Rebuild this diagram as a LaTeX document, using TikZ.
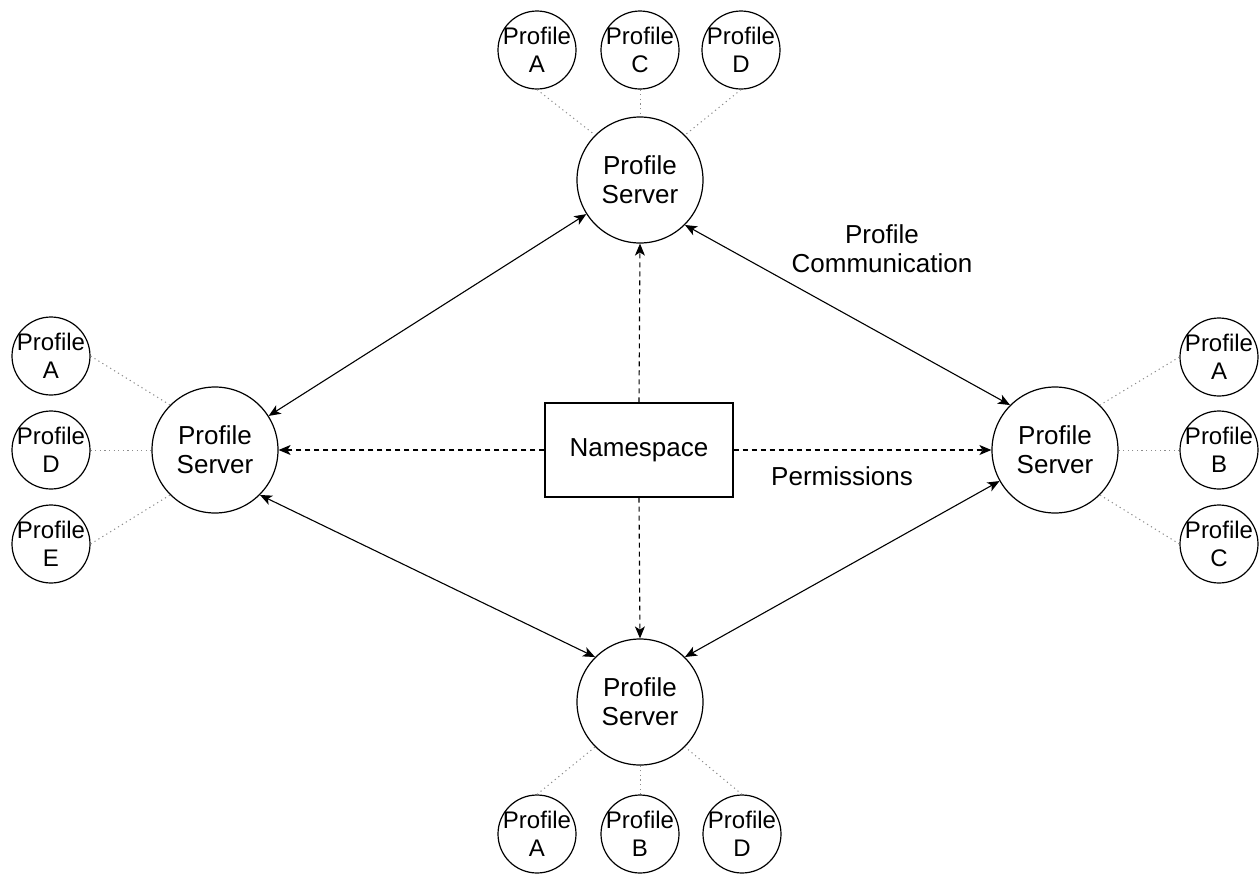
\documentclass[tikz,border=0pt]{standalone}
\usepackage{fontspec}
\setmainfont{Liberation Sans}
\usetikzlibrary{arrows.meta}
\tikzset{
  server/.style={
    circle,
    draw=black,
    line width=0.6pt,
    minimum size=63pt,
    inner sep=0pt,
    align=center
  },
  profile/.style={
    circle,
    draw=black,
    line width=0.6pt,
    minimum size=39pt,
    inner sep=0pt,
    label={[align=center, inner sep=0pt, font=\fontsize{12}{14}\selectfont]center:Profile\\#1}
  },
  ns-box/.style={rectangle, draw=black, line width=0.6pt, minimum width=94pt, minimum height=47pt},
  link/.style={line width=0.55pt, {Stealth[length=6pt, width=5pt, inset=1.6pt]}-{Stealth[length=6pt, width=5pt, inset=1.6pt]}},
  perm/.style={line width=0.55pt, dash pattern=on 2.5pt off 2pt, -{Stealth[length=6pt, width=5pt, inset=1.6pt]}},
  tie/.style={line width=0.5pt, draw=tiegray, dash pattern=on 0.6pt off 1.7pt}
}
\definecolor{tiegray}{RGB}{140,140,140}

\begin{document}
\begin{tikzpicture}[x=0.5pt, y=-0.5pt, font=\fontsize{13}{14.5}\selectfont]
  \useasboundingbox (0,0) rectangle (1260,874);

  \node[ns-box] (ns) at (639,450) {Namespace};

  \node[server] (srv-top) at (640,180) {Profile\\Server};
  \node[server] (srv-left) at (215,450) {Profile\\Server};
  \node[server] (srv-right) at (1055,450) {Profile\\Server};
  \node[server] (srv-bot) at (640,702) {Profile\\Server};

  % profiles held by each server
  \node[profile=A] (top-a) at (537,50) {};
  \node[profile=C] (top-c) at (640,50) {};
  \node[profile=D] (top-d) at (741,50) {};
  \node[profile=A] (left-a) at (51,356) {};
  \node[profile=D] (left-d) at (51,450) {};
  \node[profile=E] (left-e) at (51,544) {};
  \node[profile=A] (right-a) at (1219,357) {};
  \node[profile=B] (right-b) at (1219,450) {};
  \node[profile=C] (right-c) at (1219,544) {};
  \node[profile=A] (bot-a) at (537,834) {};
  \node[profile=B] (bot-b) at (640,834) {};
  \node[profile=D] (bot-d) at (742,834) {};

  \foreach \p/\a in {top-a/135, top-c/north, top-d/45}
    \draw[tie] (\p.south) -- (srv-top.\a);
  \foreach \p/\a in {left-a/135, left-d/west, left-e/225}
    \draw[tie] (\p.east) -- (srv-left.\a);
  \foreach \p/\a in {right-a/45, right-b/east, right-c/-45}
    \draw[tie] (\p.west) -- (srv-right.\a);
  \foreach \p/\a in {bot-a/225, bot-b/south, bot-d/-45}
    \draw[tie] (\p.north) -- (srv-bot.\a);

  % server to server
  \draw[link] (srv-left) -- (srv-top);
  \draw[link] (srv-top.-45) -- (srv-right.135);
  \draw[link] (srv-left.-45) -- (srv-bot.135);
  \draw[link] (srv-bot.45) -- (srv-right);

  \draw[perm] (ns.north) -- (srv-top.south);
  \draw[perm] (ns.west) -- (srv-left.east);
  \draw[perm] (ns.east) -- (srv-right.west);
  \draw[perm] (ns.south) -- (srv-bot.north);

  \node[align=center] (comm-lbl) at (882,249) {Profile\\Communication};
  \node (perm-lbl) at (842,476) {Permissions};
\end{tikzpicture}
\end{document}
